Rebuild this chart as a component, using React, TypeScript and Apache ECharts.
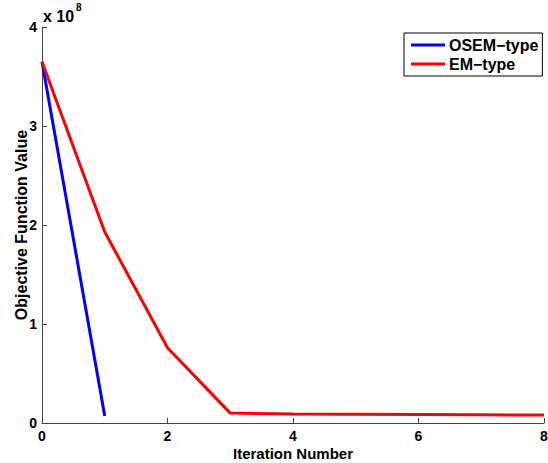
import React, { useEffect, useRef } from "react";
import * as echarts from "echarts";

const osemValues: [number, number][] = [
  [0, 3.65],
  [1, 0.07],
];
const emValues: [number, number][] = [
  [0, 3.65],
  [1, 1.93],
  [2, 0.76],
  [3, 0.1],
  [4, 0.09],
  [5, 0.088],
  [6, 0.085],
  [7, 0.083],
  [8, 0.08],
];
const seriesNames = ["OSEM\u2212type", "EM\u2212type"];

export default function App() {
  const ref = useRef<HTMLDivElement>(null);
  useEffect(() => {
    if (!ref.current) return;
    const chart = echarts.init(ref.current, undefined, { renderer: "svg" });
    const font = "Arial, 'Liberation Sans', sans-serif";
    chart.setOption({
      animation: false,
      textStyle: { fontFamily: font },
      grid: { left: 42, right: 4, top: 27, bottom: 40, outerBoundsMode: "none", containLabel: false },
      legend: {
        show: true,
        orient: "vertical",
        left: 404,
        top: 33,
        padding: [4, 4, 4, 7],
        itemGap: 3,
        itemWidth: 34,
        itemHeight: 3,
        icon: "rect",
        borderColor: "#000",
        borderWidth: 1,
        backgroundColor: "#fff",
        textStyle: { fontFamily: font, fontWeight: "bold", fontSize: 16, color: "#000", padding: [0, 0, 0, -1] },
        data: seriesNames,
      },
      xAxis: {
        type: "value",
        min: 0,
        max: 8,
        interval: 2,
        name: "Iteration Number",
        nameLocation: "middle",
        nameGap: 23,
        nameMoveOverlap: false,
        nameTextStyle: { fontFamily: font, fontWeight: "bold", fontSize: 15, color: "#000" },
        axisLine: { show: true, onZero: false, lineStyle: { color: "#444", width: 1 } },
        axisTick: { show: true, inside: true, length: 5, lineStyle: { color: "#444" } },
        axisLabel: { fontFamily: font, fontWeight: "bold", fontSize: 14, color: "#000", margin: 6 },
        splitLine: { show: false },
      },
      yAxis: {
        type: "value",
        min: 0,
        max: 4,
        interval: 1,
        name: "Objective Function Value",
        nameLocation: "middle",
        nameGap: 13,
        nameMoveOverlap: false,
        nameTextStyle: { fontFamily: font, fontWeight: "bold", fontSize: 16, color: "#000" },
        axisLine: { show: true, onZero: false, lineStyle: { color: "#444", width: 1 } },
        axisTick: { show: true, inside: true, length: 5, lineStyle: { color: "#444" } },
        axisLabel: { fontFamily: font, fontWeight: "bold", fontSize: 14, color: "#000", margin: 5 },
        splitLine: { show: false },
      },
      graphic: [
        {
          type: "text",
          left: 43,
          top: 8,
          style: {
            text: "x 10",
            fontFamily: font,
            fontWeight: "bold",
            fontSize: 16,
            fill: "#000",
          },
        },
        {
          type: "text",
          left: 76,
          top: 2,
          style: {
            text: "8",
            fontFamily: font,
            fontWeight: "bold",
            fontSize: 10,
            fill: "#000",
          },
        },
      ],
      series: [
        {
          name: seriesNames[0],
          type: "line",
          data: osemValues,
          showSymbol: false,
          symbol: "none",
          lineStyle: { color: "#0000ff", width: 3 },
          itemStyle: { color: "#0000ff" },
        },
        {
          name: seriesNames[1],
          type: "line",
          data: emValues,
          showSymbol: false,
          symbol: "none",
          lineStyle: { color: "#ff0000", width: 3 },
          itemStyle: { color: "#ff0000" },
        },
      ],
    });
    return () => chart.dispose();
  }, []);
  return <div ref={ref} style={{ width: 548, height: 463, position: "absolute", left: 0, top: 0 }} />;
}
